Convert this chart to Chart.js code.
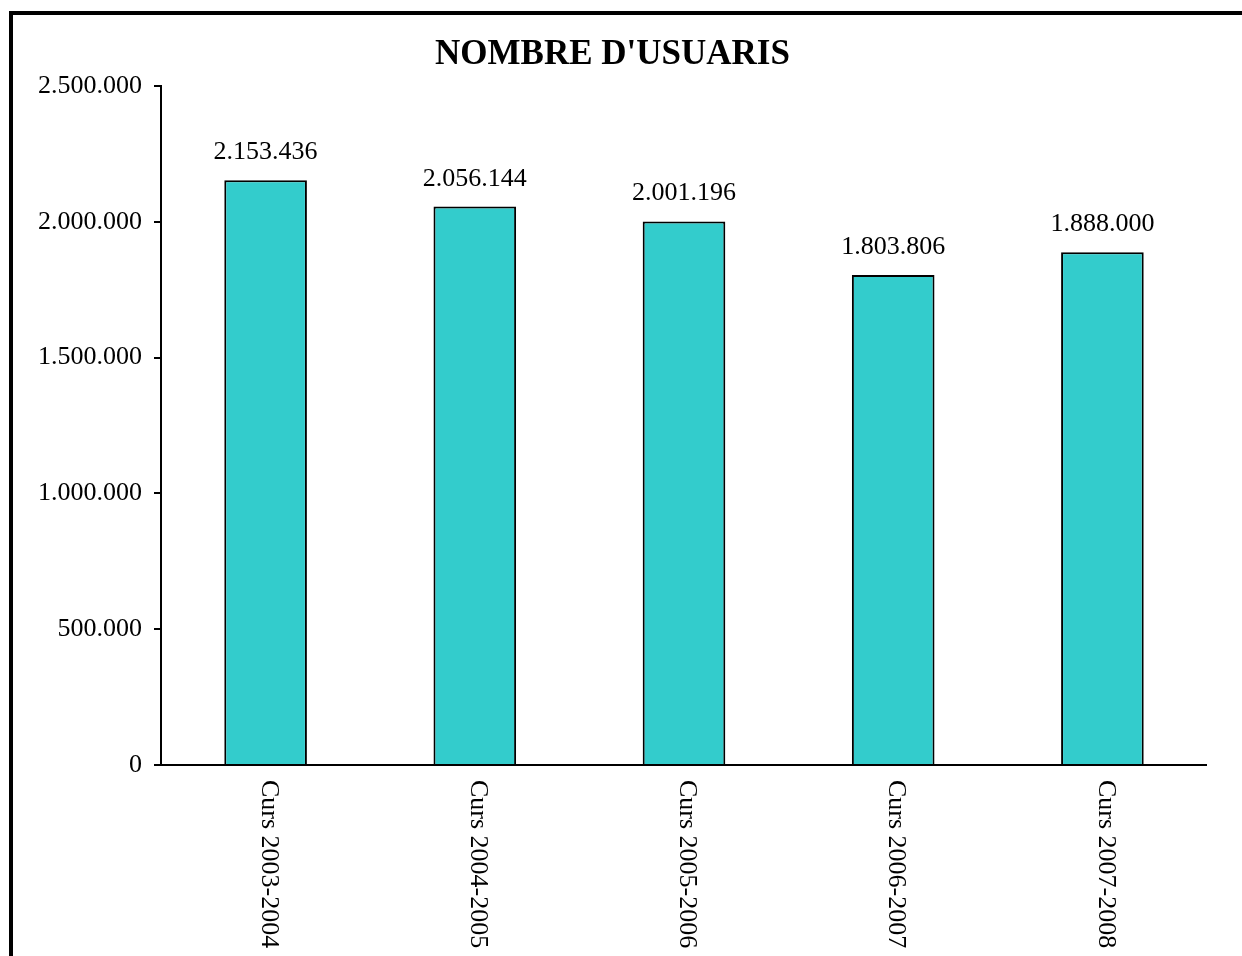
<!DOCTYPE html>
<html>
<head>
<meta charset="utf-8">
<script src="https://cdn.jsdelivr.net/npm/chart.js@4.4.1/dist/chart.umd.min.js"></script>
<style>
  html, body { margin: 0; padding: 0; background: #fff; }
  #wrap { position: relative; width: 1242px; height: 956px; overflow: hidden; }
  #frame { position: absolute; left: 9px; top: 11px; width: 1300px; height: 1000px;
           border-top: 4px solid #000; border-left: 4px solid #000; pointer-events: none; }
  canvas { position: absolute; left: 0; top: 0; }
</style>
</head>
<body>
<div id="wrap">
  <canvas id="c" width="1242" height="956"></canvas>
  <div id="frame"></div>
</div>
<script>
const chartTitle = "NOMBRE D'USUARIS";
const categories = ['Curs 2003-2004', 'Curs 2004-2005', 'Curs 2005-2006', 'Curs 2006-2007', 'Curs 2007-2008'];
const usuaris = [2153436, 2056144, 2001196, 1803806, 1888000];
const yMin = 0;
const yMax = 2500000;
const yStep = 500000;

function fmt(n) {
  return String(Math.round(n)).replace(/\B(?=(\d{3})+(?!\d))/g, '.');
}

const FONT = 'Liberation Serif, Times New Roman, serif';

const customLabels = {
  id: 'customLabels',
  afterDatasetsDraw(chart) {
    const ctx = chart.ctx;
    const meta = chart.getDatasetMeta(0);
    const xScale = chart.scales.x;
    ctx.save();
    ctx.fillStyle = '#000';
    ctx.font = '26px ' + FONT;
    ctx.textAlign = 'center';
    ctx.textBaseline = 'alphabetic';
    meta.data.forEach((bar, i) => {
      ctx.fillText(fmt(chart.data.datasets[0].data[i]), bar.x, bar.y - 21);
    });
    categories.forEach((lab, i) => {
      const x = xScale.getPixelForValue(i);
      ctx.save();
      ctx.translate(x + 3, chart.chartArea.bottom + 15);
      ctx.rotate(Math.PI / 2);
      ctx.textAlign = 'left';
      ctx.textBaseline = 'middle';
      ctx.fillText(lab, 0, 0);
      ctx.restore();
    });
    ctx.restore();
  }
};

new Chart(document.getElementById('c'), {
  type: 'bar',
  data: {
    labels: categories,
    datasets: [{
      data: usuaris,
      backgroundColor: '#33CCCC',
      borderColor: '#000',
      borderWidth: 2,
      borderSkipped: 'start',
      barPercentage: 0.395,
      categoryPercentage: 1.0
    }]
  },
  options: {
    responsive: false,
    animation: false,
    layout: { padding: { left: 18, right: 35, top: 0, bottom: 0 } },
    plugins: {
      legend: { display: false },
      tooltip: { enabled: false },
      title: {
        display: true,
        text: chartTitle,
        color: '#000',
        font: { family: FONT, size: 35, weight: 'bold', lineHeight: 1.2 },
        padding: { top: 33.5, bottom: 10.5 }
      }
    },
    scales: {
      x: {
        ticks: { display: false },
        grid: { display: true, drawOnChartArea: false, drawTicks: false, color: '#000', lineWidth: 0 },
        border: { display: true, color: '#000', width: 2 },
        afterFit(s) { s.height = 191; }
      },
      y: {
        min: yMin,
        max: yMax,
        ticks: {
          stepSize: yStep,
          color: '#000',
          padding: 12,
          font: { family: FONT, size: 26 },
          callback: (v) => fmt(v)
        },
        grid: { display: true, drawOnChartArea: false, drawTicks: true, tickLength: 7, color: '#000', lineWidth: 2 },
        border: { display: true, color: '#000', width: 2 },
        afterFit(s) { s.width = 143; }
      }
    }
  },
  plugins: [customLabels]
});
</script>
</body>
</html>
